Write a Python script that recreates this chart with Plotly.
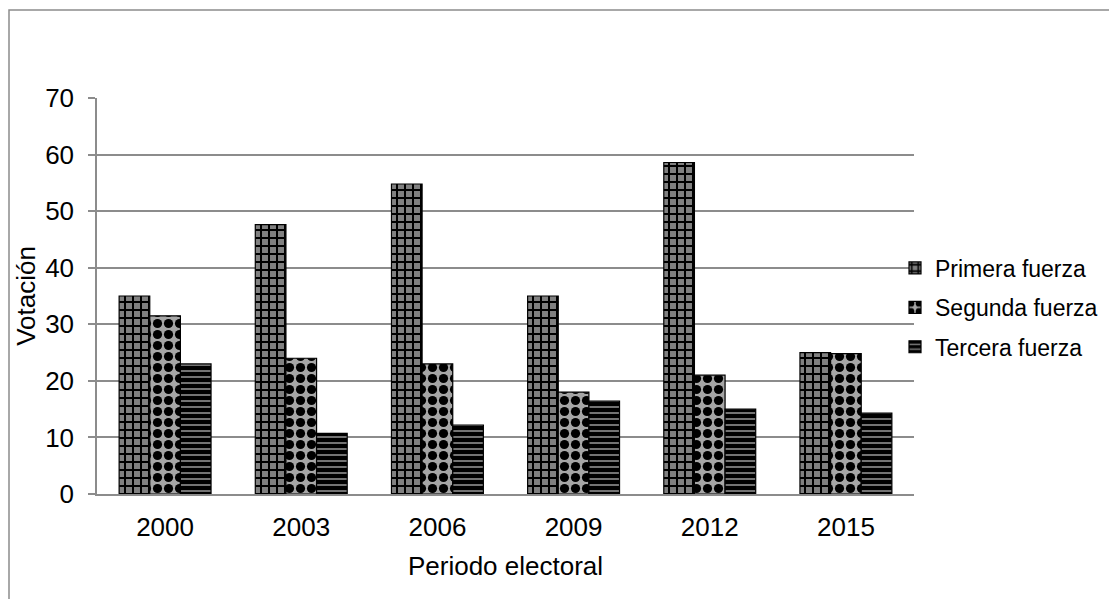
import plotly.graph_objects as go

years = ["2000", "2003", "2006", "2009", "2012", "2015"]
primera = [35.0, 47.6, 54.8, 35.0, 58.6, 25.0]
segunda = [31.5, 24.0, 23.0, 18.0, 21.0, 24.8]
tercera = [23.0, 10.7, 12.2, 16.4, 15.0, 14.3]
series_names = ["Primera fuerza", "Segunda fuerza", "Tercera fuerza"]
y_ticks = [0, 10, 20, 30, 40, 50, 60, 70]

FONT = "Liberation Sans, Arial, sans-serif"
GRID = "#8c8c8c"

patterns = [
    dict(shape="+", fgcolor="black", bgcolor="#808080", size=8, solidity=0.44, fillmode="replace"),
    dict(shape=".", fgcolor="black", bgcolor="#a6a6a6", size=11, solidity=0.55, fillmode="replace"),
    dict(shape="-", fgcolor="#808080", bgcolor="black", size=6, solidity=0.3, fillmode="replace"),
]

fig = go.Figure()
for i, (name, vals, pat) in enumerate(zip(series_names, [primera, segunda, tercera], patterns)):
    fig.add_trace(go.Bar(
        x=years, y=vals, name=name, legendgroup=f"g{i}",
        marker=dict(color=pat["bgcolor"], pattern=pat, line=dict(color="black", width=1.2)),
    ))

# page body has an 8px margin: screen = figure + 8
OFF = 8
W, H = 1117 - OFF, 599 - OFF
L, T = 97 - OFF, 98 - OFF
R = W - (914 - OFF)
B = H - (494 - OFF)
pw = W - L - R
ph = H - T - B

fig.update_layout(
    width=W, height=H,
    margin=dict(l=L, r=R, t=T, b=B, pad=0, autoexpand=False),
    paper_bgcolor="white", plot_bgcolor="white",
    barmode="group", bargap=0.325, bargroupgap=0,
    font=dict(family=FONT, size=26, color="black"),
    legend=dict(xref="container", yref="container",
                x=(895 - OFF) / W, xanchor="left", y=1 - (307.5 - OFF) / H, yanchor="middle",
                font=dict(size=23), traceorder="grouped", tracegroupgap=6.5, itemwidth=30,
                bgcolor="rgba(0,0,0,0)"),
    shapes=[dict(type="rect", xref="paper", yref="paper",
                 x0=(9 - 97) / pw, x1=1.5, y0=-0.6, y1=(494 - 10) / ph,
                 line=dict(color=GRID, width=1.5), fillcolor="rgba(0,0,0,0)", layer="below")],
)
fig.update_xaxes(
    showline=True, linecolor=GRID, linewidth=1.5, showgrid=False, ticks="",
    tickfont=dict(size=26), ticklabelstandoff=9, automargin=False,
    title=dict(text="Periodo electoral", font=dict(size=26), standoff=16),
)
fig.update_yaxes(
    range=[0, 70], tickvals=y_ticks, showline=True, linecolor=GRID, linewidth=1.5,
    showgrid=True, gridcolor=GRID, gridwidth=1.5, zeroline=False,
    ticks="outside", ticklen=7, tickcolor=GRID, tickwidth=1.5,
    tickfont=dict(size=26), ticklabelstandoff=9, automargin=False,
    title=dict(text="Votación", font=dict(size=26), standoff=2),
)

fig.write_html("out.html")
